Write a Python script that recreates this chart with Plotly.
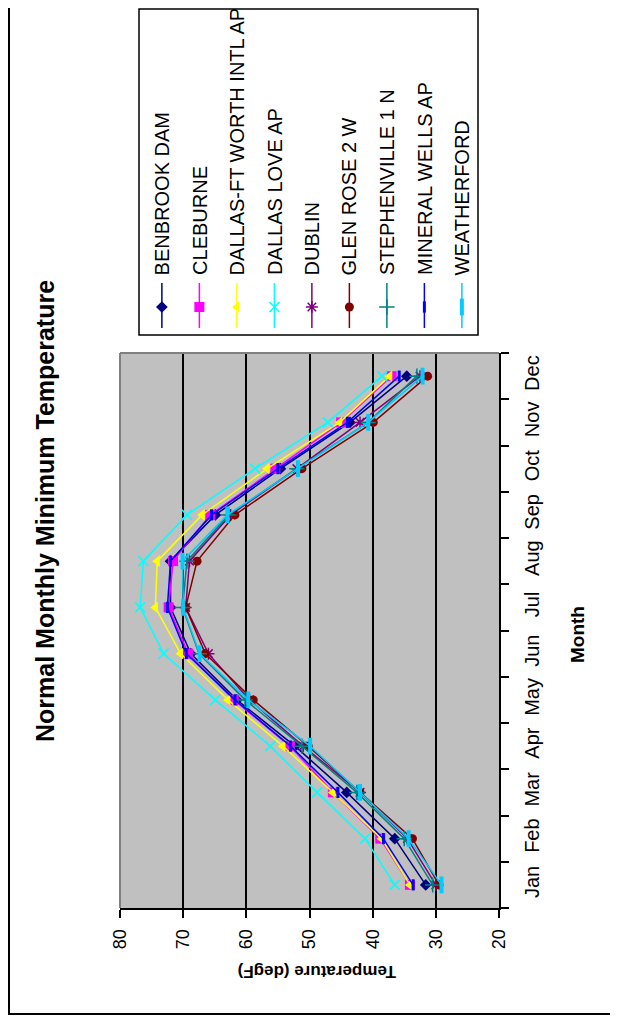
import plotly.graph_objects as go

# The page body adds an 8px margin; size the figure so it ends at the window edge.
OFF = 8
W, H = 618 - OFF, 1019 - OFF

months = ["Jan", "Feb", "Mar", "Apr", "May", "Jun", "Jul", "Aug", "Sep", "Oct", "Nov", "Dec"]

benbrook_dam = [31.6, 36.5, 44.1, 52.3, 61.5, 68.8, 72.0, 72.0, 64.9, 54.6, 43.6, 34.6]
cleburne = [34.1, 38.8, 46.3, 53.1, 62.0, 69.2, 72.3, 71.6, 65.7, 55.4, 45.0, 37.0]
dallas_ftworth = [34.1, 38.6, 46.3, 54.2, 62.9, 70.4, 74.4, 74.1, 67.0, 56.7, 45.2, 37.3]
dallas_love = [36.5, 41.2, 48.8, 56.2, 64.9, 73.1, 76.8, 76.3, 69.4, 58.6, 47.1, 38.5]
dublin = [30.0, 34.5, 42.0, 51.0, 59.5, 66.0, 69.6, 69.0, 62.5, 52.0, 42.0, 32.5]
glen_rose = [29.5, 33.7, 42.0, 50.2, 58.9, 66.5, 69.6, 67.8, 61.8, 51.2, 39.9, 31.3]
stephenville = [30.5, 35.0, 42.5, 51.2, 60.2, 67.5, 70.1, 69.4, 62.8, 52.0, 40.7, 33.0]
mineral_wells = [33.6, 38.3, 45.5, 53.0, 61.8, 69.5, 72.5, 72.0, 65.5, 55.0, 44.0, 35.8]
weatherford = [29.1, 34.3, 42.0, 49.9, 59.7, 67.4, 70.0, 70.1, 63.0, 51.8, 40.7, 32.1]

series_names = ["BENBROOK DAM", "CLEBURNE", "DALLAS-FT WORTH INTL AP", "DALLAS LOVE AP",
                "DUBLIN", "GLEN ROSE 2 W", "STEPHENVILLE 1 N", "MINERAL WELLS AP", "WEATHERFORD"]
series_values = [benbrook_dam, cleburne, dallas_ftworth, dallas_love, dublin,
                 glen_rose, stephenville, mineral_wells, weatherford]
colors = ["#000080", "#FF00FF", "#FFFF00", "#00FFFF", "#800080",
          "#800000", "#008080", "#0000FF", "#00CCFF"]
symbols = ["diamond", "square", "triangle-left", "x-thin-open", "asterisk-open",
           "circle", "cross-thin-open", "line-ns-open", "line-ns-open"]
msizes = [9, 10, 10, 10, 10, 9, 11, 8, 12]
mlw = [0, 0, 0, 1.5, 1.5, 0, 1.5, 3, 4]

temp_ticks = [80, 70, 60, 50, 40, 30, 20]

FONT = "Liberation Sans, Arial, sans-serif"


def px(x):
    """screen x (window pixels) -> paper fraction"""
    return (x - OFF) / W


def py(y):
    """screen y (window pixels) -> paper fraction"""
    return 1 - (y - OFF) / H


fig = go.Figure()

for name, vals, c, s, ms, lw in zip(series_names, series_values, colors, symbols, msizes, mlw):
    fig.add_trace(go.Scatter(
        x=vals, y=months, mode="lines+markers", name=name,
        line=dict(color=c, width=1.5),
        marker=dict(symbol=s, size=ms, color=c, line=dict(color=c, width=lw)),
        xaxis="x", yaxis="y", showlegend=False,
    ))

# legend samples on a hidden axis
for i, (name, c, s, ms, lw) in enumerate(zip(series_names, colors, symbols, msizes, mlw)):
    fig.add_trace(go.Scatter(
        x=[i, i], y=[283, 328], mode="lines", line=dict(color=c, width=1.5),
        xaxis="x2", yaxis="y2", showlegend=False, hoverinfo="skip",
    ))
    fig.add_trace(go.Scatter(
        x=[i], y=[307], mode="markers",
        marker=dict(symbol=s, size=ms, color=c, line=dict(color=c, width=lw)),
        xaxis="x2", yaxis="y2", showlegend=False, hoverinfo="skip",
    ))
    fig.add_annotation(
        x=i, y=277, xref="x2", yref="y2", text=name, textangle=-90,
        showarrow=False, xanchor="center", yanchor="bottom",
        font=dict(family=FONT, size=20, color="black"),
    )

fig.update_layout(
    width=W, height=H,
    margin=dict(l=0, r=0, t=0, b=0),
    paper_bgcolor="white",
    plot_bgcolor="white",
    font=dict(family=FONT, color="black"),
    xaxis=dict(
        domain=[px(120), px(499)],
        range=[80, 20], tickvals=temp_ticks, tickangle=-90,
        showgrid=True, gridcolor="black", gridwidth=2,
        showline=True, linecolor="black", linewidth=2,
        ticks="outside", ticklen=8, tickcolor="black", tickwidth=1.5,
        tickfont=dict(size=18), ticklabelstandoff=4,
        zeroline=False, automargin=False, anchor="y",
    ),
    yaxis=dict(
        domain=[py(908), py(353)],
        type="category", categoryorder="array", categoryarray=months,
        range=[-0.5, 11.5], side="right", tickangle=-90,
        showgrid=False, showline=True, linecolor="black", linewidth=2,
        ticks="outside", ticklen=8, tickcolor="black", tickwidth=1.5,
        tickson="boundaries", tickfont=dict(size=20), ticklabelstandoff=14,
        zeroline=False, automargin=False, anchor="x",
    ),
    xaxis2=dict(domain=[px(139), px(478)], range=[-0.61, 8.43], visible=False,
                anchor="y2", fixedrange=True),
    yaxis2=dict(domain=[py(335), py(9)], range=[335, 9], visible=False,
                anchor="x2", fixedrange=True),
    showlegend=False,
)

# plot-area background (gray), under gridlines
fig.add_shape(type="rect", xref="x domain", yref="y domain", x0=0, x1=1, y0=0, y1=1,
              fillcolor="#C0C0C0", line=dict(width=0), layer="below")
# plot-area top/left border (gray)
fig.add_shape(type="line", xref="paper", yref="paper", x0=px(120), x1=px(499),
              y0=py(353), y1=py(353), line=dict(color="#808080", width=2))
fig.add_shape(type="line", xref="paper", yref="paper", x0=px(120), x1=px(120),
              y0=py(353), y1=py(908), line=dict(color="#808080", width=2))
# legend box
fig.add_shape(type="rect", xref="paper", yref="paper", x0=px(139), x1=px(478),
              y0=py(335), y1=py(9), line=dict(color="black", width=1.5))
# outer chart frame
fig.add_shape(type="rect", xref="paper", yref="paper", x0=px(9), x1=px(640),
              y0=py(1014), y1=py(-20), line=dict(color="black", width=2))

# titles
fig.add_annotation(x=px(45), y=py(511), xref="paper", yref="paper",
                   xanchor="center", yanchor="middle",
                   text="<b>Normal Monthly Minimum Temperature</b>", textangle=-90,
                   showarrow=False, font=dict(size=25))
fig.add_annotation(x=px(577), y=py(635), xref="paper", yref="paper",
                   xanchor="center", yanchor="middle",
                   text="<b>Month</b>", textangle=-90,
                   showarrow=False, font=dict(size=19))
fig.add_annotation(x=px(317), y=py(972), xref="paper", yref="paper",
                   xanchor="center", yanchor="middle",
                   text="<b>Temperature (degF)</b>", textangle=180,
                   showarrow=False, font=dict(size=17))

fig.write_html("out.html")
